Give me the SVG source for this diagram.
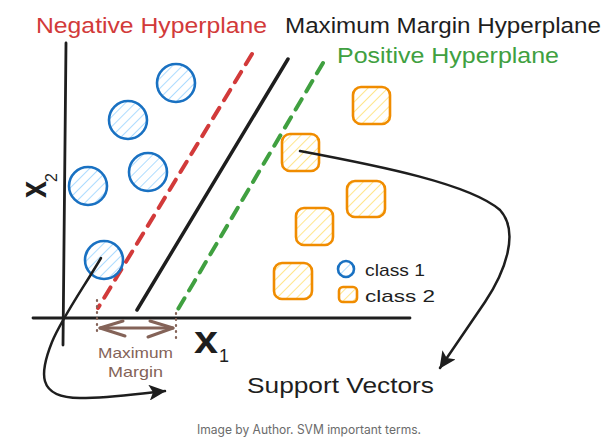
<svg xmlns="http://www.w3.org/2000/svg" width="612" height="439" viewBox="0 0 612 439">
<style>
.hand{font-family:"Liberation Sans","DejaVu Sans",sans-serif;}
.c1{fill:url(#hb);stroke:#1971c2;stroke-width:2.6;}
.c2{fill:url(#ho);stroke:#f08c00;stroke-width:2.6;}
.axis{stroke:#1e1e1e;stroke-width:2.8;fill:none;stroke-linecap:round;}
.arr{stroke:#1e1e1e;stroke-width:2.5;fill:none;stroke-linecap:round;}
.brown{stroke:#846358;fill:none;stroke-linecap:round;}
</style>
<defs>
<pattern id="hb" width="7" height="7" patternUnits="userSpaceOnUse" patternTransform="rotate(45)">
<line x1="0" y1="0" x2="0" y2="7" stroke="#a5d8ff" stroke-width="1.8"/>
</pattern>
<pattern id="ho" width="7" height="7" patternUnits="userSpaceOnUse" patternTransform="rotate(45)">
<line x1="0" y1="0" x2="0" y2="7" stroke="#ffe380" stroke-width="1.8"/>
</pattern>
<marker id="ah" markerWidth="18" markerHeight="16" refX="16" refY="8" orient="auto" markerUnits="userSpaceOnUse">
<path d="M0,0 L17,8 L0,16 L4,8 Z" fill="#1e1e1e"/>
</marker>
</defs>
<rect width="612" height="439" fill="#ffffff"/>

<g id="axes">
<line class="axis" x1="66" y1="43" x2="63" y2="345"/>
<line class="axis" x1="33" y1="318" x2="410" y2="318"/>
</g>

<g id="hyperplanes">
<line x1="252" y1="54" x2="98" y2="308" stroke="#d23a3a" stroke-width="4" stroke-dasharray="12 9" stroke-linecap="round"/>
<line x1="288" y1="59" x2="137" y2="310" stroke="#1e1e1e" stroke-width="3.5" stroke-linecap="round"/>
<line x1="323" y1="63" x2="177" y2="311" stroke="#40a040" stroke-width="4" stroke-dasharray="12 9" stroke-linecap="round"/>
</g>

<g id="class1">
<circle class="c1" cx="176" cy="83" r="19"/>
<circle class="c1" cx="128" cy="120" r="19"/>
<circle class="c1" cx="148" cy="172" r="19"/>
<circle class="c1" cx="88" cy="186" r="19"/>
<circle class="c1" cx="104" cy="260" r="19"/>
</g>

<g id="class2">
<rect class="c2" x="353" y="87" width="37" height="37" rx="8"/>
<rect class="c2" x="282" y="134" width="37" height="37" rx="8"/>
<rect class="c2" x="347" y="181" width="38" height="36" rx="8"/>
<rect class="c2" x="296" y="208" width="37" height="37" rx="8"/>
<rect class="c2" x="274" y="263" width="38" height="36" rx="8"/>
</g>

<g id="connectors">
<path class="arr" d="M101 258 C82 290, 62 318, 52 342 C40 372, 36 398, 80 398 C110 398, 135 394, 165 391" marker-end="url(#ah)"/>
<path class="arr" d="M300 151 C380 166, 470 184, 500 210 C520 232, 505 272, 485 302 L440 368" marker-end="url(#ah)"/>
</g>

<g id="margin">
<line class="brown" x1="97" y1="300" x2="97" y2="336" stroke-width="2.2" stroke-dasharray="1 5"/>
<line class="brown" x1="176" y1="313" x2="176" y2="342" stroke-width="2.2" stroke-dasharray="1 5"/>
<line class="brown" x1="100" y1="328" x2="173" y2="328" stroke-width="3"/>
<polyline class="brown" points="123,321 100,328 125,336" stroke-width="3" stroke-linejoin="round"/>
<polyline class="brown" points="150,321 173,328 148,337" stroke-width="3" stroke-linejoin="round"/>
<text class="hand" x="98" y="358" font-size="15" fill="#846358" textLength="75" lengthAdjust="spacingAndGlyphs">Maximum</text>
<text class="hand" x="108" y="377" font-size="15" fill="#846358" textLength="55" lengthAdjust="spacingAndGlyphs">Margin</text>
</g>

<g id="legend">
<circle class="c1" cx="346" cy="269" r="8" stroke-width="2.3"/>
<text class="hand" x="365" y="276" font-size="17" fill="#1e1e1e" textLength="60" lengthAdjust="spacingAndGlyphs">class 1</text>
<rect class="c2" x="339" y="287" width="18" height="15" rx="4" stroke-width="2.3"/>
<text class="hand" x="365" y="302" font-size="17" fill="#1e1e1e" textLength="70" lengthAdjust="spacingAndGlyphs">class 2</text>
</g>

<g id="labels">
<text class="hand" x="36" y="33" font-size="22" fill="#d23a3a" textLength="231" lengthAdjust="spacingAndGlyphs">Negative Hyperplane</text>
<text class="hand" x="285" y="33" font-size="22" fill="#1e1e1e" textLength="316" lengthAdjust="spacingAndGlyphs">Maximum Margin Hyperplane</text>
<text class="hand" x="337" y="63" font-size="22" fill="#40a040" textLength="222" lengthAdjust="spacingAndGlyphs">Positive Hyperplane</text>
<text class="hand" x="247" y="393" font-size="22" fill="#1e1e1e" textLength="187" lengthAdjust="spacingAndGlyphs">Support Vectors</text>
<text class="hand" x="194" y="353" font-size="38" font-weight="bold" fill="#1e1e1e" textLength="24" lengthAdjust="spacingAndGlyphs">x</text>
<text class="hand" x="219" y="362" font-size="18" fill="#1e1e1e">1</text>
<g transform="translate(46,198) rotate(-90)">
<text class="hand" x="0" y="0" font-size="36" font-weight="bold" fill="#1e1e1e" textLength="17" lengthAdjust="spacingAndGlyphs">x</text>
<text class="hand" x="16" y="11" font-size="16" fill="#1e1e1e">2</text>
</g>
<text x="197" y="434" font-family="Inter,'Liberation Sans',sans-serif" font-size="12.5" fill="#6b6b6b" textLength="224" lengthAdjust="spacingAndGlyphs">Image by Author. SVM important terms.</text>
</g>
</svg>
